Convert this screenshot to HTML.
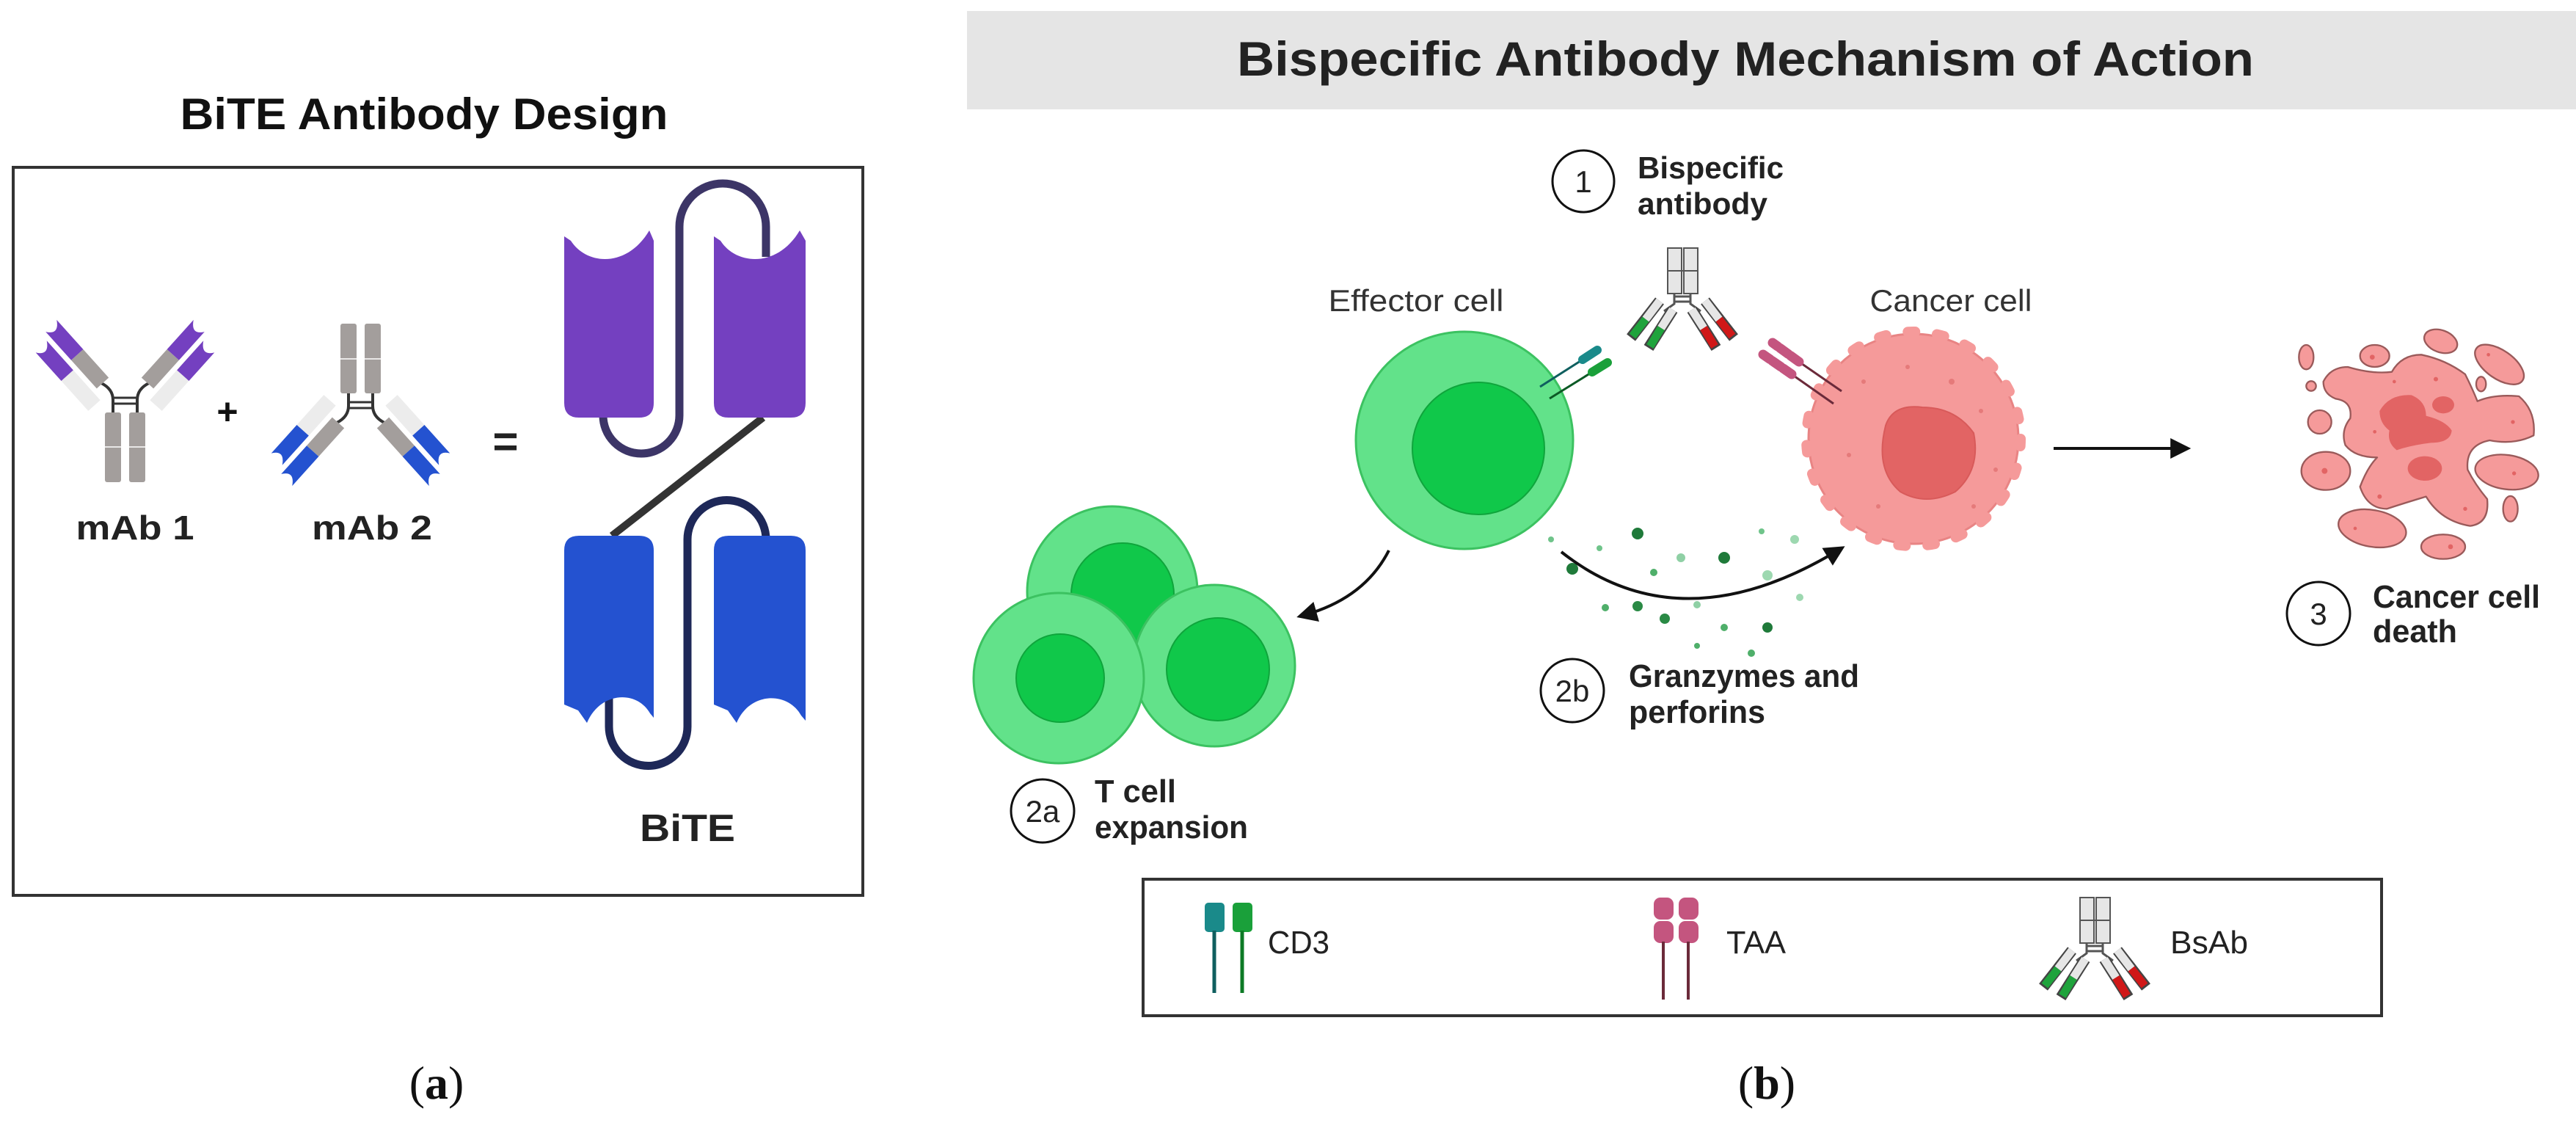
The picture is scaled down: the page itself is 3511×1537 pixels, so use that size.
<!DOCTYPE html>
<html><head><meta charset="utf-8"><style>html,body{margin:0;padding:0;background:#fff}svg{display:block}</style></head><body>
<svg width="3511" height="1537" viewBox="0 0 3511 1537" xmlns="http://www.w3.org/2000/svg" font-family="Liberation Sans, Arial, sans-serif">
<defs>
<marker id="ah2" viewBox="0 0 10 10" refX="6" refY="5" markerWidth="28" markerHeight="28" orient="auto" markerUnits="userSpaceOnUse"><path d="M0,0 L10,5 L0,10 Z" fill="#111"/></marker>
<g id="arm">
  <rect x="-11" y="-52" width="22" height="52" fill="#a39e9c"/>
  <path d="M-11,-52 L-11,-104 Q0,-88 11,-106 L11,-52 Z" fill="#7440c0"/>
  <rect x="-40" y="-40" width="22" height="55" fill="#ececec"/>
  <path d="M-40,-40 L-40,-92 Q-29,-76 -18,-94 L-18,-40 Z" fill="#7440c0"/>
</g>
<g id="armb">
  <rect x="-11" y="-52" width="22" height="52" fill="#a39e9c"/>
  <path d="M-11,-52 L-11,-104 Q0,-88 11,-106 L11,-52 Z" fill="#2452d0"/>
  <rect x="-40" y="-40" width="22" height="55" fill="#ececec"/>
  <path d="M-40,-40 L-40,-92 Q-29,-76 -18,-94 L-18,-40 Z" fill="#2452d0"/>
</g>
<g id="bsab">
  <rect x="2273" y="338" width="19" height="62" fill="#e6e6e6" stroke="#555" stroke-width="2"/>
  <rect x="2295" y="338" width="19" height="62" fill="#e6e6e6" stroke="#555" stroke-width="2"/>
  <line x1="2273" y1="369" x2="2314" y2="369" stroke="#555" stroke-width="2"/>
  <path d="M2282,400 L2282,414 L2268,424 M2304,400 L2304,414 L2318,424 M2282,404 L2304,404 M2282,411 L2304,411" stroke="#555" stroke-width="3" fill="none"/>
  <line x1="2262" y1="410" x2="2223" y2="460" stroke="#444" stroke-width="15"/>
  <line x1="2262" y1="410" x2="2243" y2="435" stroke="#e6e6e6" stroke-width="11"/>
  <line x1="2243" y1="435" x2="2225" y2="458" stroke="#1fa33c" stroke-width="11"/>
  <line x1="2280" y1="422" x2="2247" y2="474" stroke="#444" stroke-width="15"/>
  <line x1="2280" y1="422" x2="2264" y2="447" stroke="#e6e6e6" stroke-width="11"/>
  <line x1="2264" y1="447" x2="2249" y2="472" stroke="#1fa33c" stroke-width="11"/>
  <line x1="2324" y1="410" x2="2363" y2="460" stroke="#444" stroke-width="15"/>
  <line x1="2324" y1="410" x2="2343" y2="435" stroke="#e6e6e6" stroke-width="11"/>
  <line x1="2343" y1="435" x2="2361" y2="458" stroke="#d01818" stroke-width="11"/>
  <line x1="2306" y1="422" x2="2339" y2="474" stroke="#444" stroke-width="15"/>
  <line x1="2306" y1="422" x2="2322" y2="447" stroke="#e6e6e6" stroke-width="11"/>
  <line x1="2322" y1="447" x2="2337" y2="472" stroke="#d01818" stroke-width="11"/>
</g>
</defs>
<rect width="3511" height="1537" fill="#fff"/>

<!-- Panel a -->
<text x="578" y="176" font-size="60" font-weight="bold" text-anchor="middle" textLength="665" lengthAdjust="spacingAndGlyphs" fill="#111">BiTE Antibody Design</text>
<rect x="18" y="228" width="1158" height="992" fill="none" stroke="#333" stroke-width="4"/>

<g>
  <rect x="143" y="562" width="22" height="95" rx="3" fill="#a39e9c"/>
  <rect x="176" y="562" width="22" height="95" rx="3" fill="#a39e9c"/>
  <line x1="143" y1="609" x2="198" y2="609" stroke="#fff" stroke-width="1.5"/>
  <path d="M154,562 L154,545 Q154,530 138,522 M187,562 L187,545 Q187,530 203,522" stroke="#333" stroke-width="4" fill="none"/>
  <path d="M154,542 L187,542 M154,550 L187,550" stroke="#333" stroke-width="3"/>
  <g transform="translate(140,522) rotate(-42)"><use href="#arm"/></g>
  <g transform="translate(201,522) rotate(42) scale(-1,1)"><use href="#arm"/></g>
</g>
<g transform="translate(321,1098) scale(1,-1)">
  <rect x="143" y="562" width="22" height="95" rx="3" fill="#a39e9c"/>
  <rect x="176" y="562" width="22" height="95" rx="3" fill="#a39e9c"/>
  <line x1="143" y1="609" x2="198" y2="609" stroke="#fff" stroke-width="1.5"/>
  <path d="M154,562 L154,545 Q154,530 138,522 M187,562 L187,545 Q187,530 203,522" stroke="#333" stroke-width="4" fill="none"/>
  <path d="M154,542 L187,542 M154,550 L187,550" stroke="#333" stroke-width="3"/>
  <g transform="translate(140,522) rotate(-42)"><use href="#armb"/></g>
  <g transform="translate(201,522) rotate(42) scale(-1,1)"><use href="#armb"/></g>
</g>
<text x="184" y="735" font-size="46" font-weight="bold" text-anchor="middle" textLength="161" lengthAdjust="spacingAndGlyphs" fill="#222">mAb 1</text>
<text x="507" y="735" font-size="46" font-weight="bold" text-anchor="middle" textLength="164" lengthAdjust="spacingAndGlyphs" fill="#222">mAb 2</text>
<text x="310" y="578" font-size="50" font-weight="bold" text-anchor="middle" fill="#111">+</text>
<text x="689" y="622" font-size="60" font-weight="bold" text-anchor="middle" fill="#222">=</text>

<path d="M1040,569 L834,730" stroke="#333" stroke-width="10"/>
<path d="M822,555 L822,566 A52,52 0 0 0 926,566 L926,309 A59,59 0 0 1 1044,309 L1044,350" stroke="#3c3567" stroke-width="11" fill="none"/>
<path d="M1044,740 L1044,735 A53.5,53.5 0 0 0 937,735 L937,990 A53.5,53.5 0 0 1 830,990 L830,945" stroke="#1e2858" stroke-width="11" fill="none"/>
<path d="M769,549 L769,322 L778,328 C800,362 855,365 885,314 L891,328 L891,549 Q891,569 871,569 L789,569 Q769,569 769,549 Z" fill="#7440c0"/>
<path d="M973,549 L973,322 L982,328 C1004,362 1060,365 1090,314 L1098,328 L1098,549 Q1098,569 1078,569 L993,569 Q973,569 973,549 Z" fill="#7440c0"/>
<path d="M769,750 Q769,730 789,730 L871,730 Q891,730 891,750 L891,978 L886,972 C868,940 818,942 800,985 L788,968 L769,960 Z" fill="#2452d0"/>
<path d="M973,750 Q973,730 993,730 L1078,730 Q1098,730 1098,750 L1098,982 L1092,975 C1074,942 1022,942 1004,985 L992,968 L973,960 Z" fill="#2452d0"/>
<text x="937" y="1146" font-size="52" font-weight="bold" text-anchor="middle" textLength="130" lengthAdjust="spacingAndGlyphs" fill="#222">BiTE</text>
<text x="595" y="1497" font-size="64" font-family="Liberation Serif, serif" text-anchor="middle" fill="#111">(<tspan font-weight="bold">a</tspan>)</text>

<!-- Panel b -->
<rect x="1318" y="15" width="2193" height="134" fill="#e5e5e5"/>
<text x="2379" y="103" font-size="66" font-weight="bold" text-anchor="middle" textLength="1386" lengthAdjust="spacingAndGlyphs" fill="#222">Bispecific Antibody Mechanism of Action</text>

<g font-size="42" fill="#222">
<circle cx="2158" cy="247" r="42" fill="#fff" stroke="#111" stroke-width="3"/>
<text x="2158" y="262" text-anchor="middle">1</text>
<text x="2232" y="243" font-weight="bold" textLength="199" lengthAdjust="spacingAndGlyphs">Bispecific</text>
<text x="2232" y="292" font-weight="bold" textLength="177" lengthAdjust="spacingAndGlyphs">antibody</text>
<text x="1930" y="424" text-anchor="middle" textLength="239" lengthAdjust="spacingAndGlyphs" fill="#333">Effector cell</text>
<text x="2659" y="424" text-anchor="middle" textLength="221" lengthAdjust="spacingAndGlyphs" fill="#333">Cancer cell</text>
</g>

<use href="#bsab"/>

<circle cx="1996" cy="600" r="148" fill="#62e28a" stroke="#3cc261" stroke-width="3"/>
<circle cx="2015" cy="611" r="90" fill="#10c84a" stroke="#0fa53c" stroke-width="2"/>
<line x1="2099" y1="527" x2="2157" y2="490" stroke="#0f5f5f" stroke-width="3"/>
<line x1="2157" y1="490" x2="2177" y2="477" stroke="#1a8a8a" stroke-width="12" stroke-linecap="round"/>
<line x1="2112" y1="543" x2="2170" y2="507" stroke="#0c5a25" stroke-width="3"/>
<line x1="2170" y1="507" x2="2191" y2="494" stroke="#1aa03a" stroke-width="12" stroke-linecap="round"/>

<!-- Cancer cell -->
<circle cx="2608" cy="598" r="143" fill="#f59a9a" stroke="#e88484" stroke-width="3"/>
<circle cx="2608" cy="598" r="146" fill="none" stroke="#f59a9a" stroke-width="14" stroke-linecap="round" stroke-dasharray="10 30"/>
<path d="M2570,580 Q2580,550 2620,555 Q2665,555 2690,590 Q2700,640 2665,670 Q2625,690 2590,670 Q2555,640 2570,580 Z" fill="#e26464" stroke="#d85a5a" stroke-width="2"/>
<g fill="#e57a7a"><circle cx="2540" cy="520" r="3"/><circle cx="2600" cy="500" r="3"/><circle cx="2660" cy="520" r="4"/><circle cx="2520" cy="620" r="3"/><circle cx="2700" cy="560" r="3"/><circle cx="2560" cy="690" r="3"/><circle cx="2690" cy="690" r="3"/><circle cx="2720" cy="640" r="3"/></g>
<line x1="2510" y1="533" x2="2452" y2="493" stroke="#6b2a3a" stroke-width="3"/>
<line x1="2452" y1="493" x2="2416" y2="467" stroke="#c4557f" stroke-width="13" stroke-linecap="round" stroke-dasharray="14 4"/>
<line x1="2499" y1="550" x2="2442" y2="510" stroke="#6b2a3a" stroke-width="3"/>
<line x1="2442" y1="510" x2="2403" y2="483" stroke="#c4557f" stroke-width="13" stroke-linecap="round" stroke-dasharray="14 4"/>

<line x1="2799" y1="611" x2="2975" y2="611" stroke="#111" stroke-width="4" marker-end="url(#ah2)"/>

<g transform="translate(3100,420) scale(0.3333)" fill="#f59a9a" stroke="#9a5a5a" stroke-width="7" stroke-linejoin="round">
<path d="M200,300 Q230,240 300,240 Q400,270 480,260 Q520,190 600,190 Q700,210 780,270 Q810,330 830,380 Q900,350 1000,360 Q1070,420 1060,520 Q980,560 880,540 Q780,560 790,660 Q820,720 870,780 Q880,880 800,890 Q680,870 620,770 Q520,800 460,820 Q380,820 350,730 Q380,650 420,610 Q330,610 290,560 Q270,500 310,450 Q320,380 250,370 Q200,350 200,300 Z"/>
<ellipse cx="130" cy="200" rx="30" ry="50"/>
<ellipse cx="410" cy="195" rx="60" ry="45"/>
<ellipse cx="680" cy="135" rx="70" ry="45" transform="rotate(20 680 135)"/>
<ellipse cx="920" cy="230" rx="115" ry="58" transform="rotate(35 920 230)"/>
<circle cx="150" cy="318" r="20"/>
<ellipse cx="845" cy="310" rx="20" ry="30"/>
<circle cx="185" cy="465" r="48"/>
<ellipse cx="210" cy="665" rx="100" ry="78"/>
<ellipse cx="950" cy="670" rx="130" ry="70" transform="rotate(8 950 670)"/>
<ellipse cx="965" cy="820" rx="30" ry="52"/>
<ellipse cx="400" cy="900" rx="140" ry="75" transform="rotate(10 400 900)"/>
<ellipse cx="690" cy="975" rx="90" ry="50"/>
<g fill="#e26464" stroke="none">
<path d="M430,420 Q470,350 560,355 Q620,380 620,440 Q700,460 725,500 Q720,550 640,550 Q560,560 500,580 Q460,550 470,500 Q430,470 430,420 Z"/>
<ellipse cx="615" cy="655" rx="70" ry="50"/>
<ellipse cx="690" cy="395" rx="45" ry="35"/>
<circle cx="400" cy="200" r="10"/><circle cx="660" cy="290" r="9"/><circle cx="490" cy="300" r="7"/><circle cx="205" cy="665" r="12"/><circle cx="975" cy="465" r="8"/><circle cx="980" cy="675" r="8"/><circle cx="430" cy="770" r="9"/><circle cx="780" cy="820" r="8"/><circle cx="720" cy="975" r="10"/><circle cx="330" cy="900" r="7"/><circle cx="410" cy="505" r="7"/><circle cx="875" cy="190" r="7"/></g>
</g>
<circle cx="3160" cy="836" r="43" fill="#fff" stroke="#111" stroke-width="3"/>
<text x="3160" y="851" font-size="42" text-anchor="middle" fill="#222">3</text>
<text x="3234" y="828" font-size="44" font-weight="bold" textLength="228" lengthAdjust="spacingAndGlyphs" fill="#222">Cancer cell</text>
<text x="3234" y="875" font-size="44" font-weight="bold" textLength="115" lengthAdjust="spacingAndGlyphs" fill="#222">death</text>

<g>
<circle cx="2114" cy="735" r="4" fill="#6fc48a"/><circle cx="2232" cy="727" r="8" fill="#1f7a3a"/><circle cx="2180" cy="747" r="4" fill="#6fc48a"/><circle cx="2291" cy="760" r="6" fill="#8fd0a5"/><circle cx="2350" cy="760" r="8" fill="#1f7a3a"/><circle cx="2401" cy="724" r="4" fill="#6fc48a"/><circle cx="2446" cy="735" r="6" fill="#9dd8b0"/><circle cx="2143" cy="775" r="8" fill="#1f7a3a"/><circle cx="2254" cy="780" r="5" fill="#4faf6a"/><circle cx="2409" cy="784" r="7" fill="#9dd8b0"/><circle cx="2453" cy="814" r="5" fill="#9dd8b0"/><circle cx="2188" cy="828" r="5" fill="#4faf6a"/><circle cx="2232" cy="826" r="7" fill="#2a8a45"/><circle cx="2313" cy="824" r="5" fill="#8fd0a5"/><circle cx="2269" cy="843" r="7" fill="#2a8a45"/><circle cx="2350" cy="855" r="5" fill="#4faf6a"/><circle cx="2409" cy="855" r="7" fill="#1f7a3a"/><circle cx="2313" cy="880" r="4" fill="#4faf6a"/><circle cx="2387" cy="890" r="5" fill="#4faf6a"/>
</g>
<path d="M2128,752 Q2290,880 2505,750" stroke="#111" stroke-width="4" fill="none" marker-end="url(#ah2)"/>
<circle cx="2143" cy="941" r="43" fill="#fff" stroke="#111" stroke-width="3"/>
<text x="2143" y="956" font-size="42" text-anchor="middle" fill="#222">2b</text>
<text x="2220" y="936" font-size="44" font-weight="bold" textLength="314" lengthAdjust="spacingAndGlyphs" fill="#222">Granzymes and</text>
<text x="2220" y="985" font-size="44" font-weight="bold" textLength="186" lengthAdjust="spacingAndGlyphs" fill="#222">perforins</text>

<path d="M1893,750 Q1860,815 1778,838" stroke="#111" stroke-width="4" fill="none" marker-end="url(#ah2)"/>
<circle cx="1516" cy="806" r="116" fill="#62e28a" stroke="#3cc261" stroke-width="3"/>
<circle cx="1530" cy="810" r="70" fill="#10c84a" stroke="#0fa53c" stroke-width="2"/>
<circle cx="1655" cy="907" r="110" fill="#62e28a" stroke="#3cc261" stroke-width="3"/>
<circle cx="1660" cy="912" r="70" fill="#10c84a" stroke="#0fa53c" stroke-width="2"/>
<circle cx="1443" cy="924" r="116" fill="#62e28a" stroke="#3cc261" stroke-width="3"/>
<circle cx="1445" cy="924" r="60" fill="#10c84a" stroke="#0fa53c" stroke-width="2"/>
<circle cx="1421" cy="1105" r="43" fill="#fff" stroke="#111" stroke-width="3"/>
<text x="1421" y="1120" font-size="42" text-anchor="middle" fill="#222">2a</text>
<text x="1492" y="1093" font-size="44" font-weight="bold" textLength="111" lengthAdjust="spacingAndGlyphs" fill="#222">T cell</text>
<text x="1492" y="1142" font-size="44" font-weight="bold" textLength="209" lengthAdjust="spacingAndGlyphs" fill="#222">expansion</text>

<rect x="1558" y="1198" width="1688" height="186" fill="#fff" stroke="#333" stroke-width="4"/>
<rect x="1642" y="1230" width="27" height="40" rx="5" fill="#1a8a8a"/>
<rect x="1680" y="1230" width="27" height="40" rx="5" fill="#1aa03a"/>
<line x1="1655" y1="1268" x2="1655" y2="1353" stroke="#0f5f5f" stroke-width="5"/>
<line x1="1693" y1="1268" x2="1693" y2="1353" stroke="#0c7a25" stroke-width="5"/>
<text x="1728" y="1299" font-size="44" textLength="84" lengthAdjust="spacingAndGlyphs" fill="#222">CD3</text>
<rect x="2254" y="1223" width="27" height="30" rx="9" fill="#c4557f"/>
<rect x="2254" y="1255" width="27" height="30" rx="9" fill="#c4557f"/>
<rect x="2288" y="1223" width="27" height="30" rx="9" fill="#c4557f"/>
<rect x="2288" y="1255" width="27" height="30" rx="9" fill="#c4557f"/>
<line x1="2267" y1="1283" x2="2267" y2="1362" stroke="#6b2a3a" stroke-width="4"/>
<line x1="2301" y1="1283" x2="2301" y2="1362" stroke="#6b2a3a" stroke-width="4"/>
<text x="2353" y="1299" font-size="44" textLength="81" lengthAdjust="spacingAndGlyphs" fill="#222">TAA</text>
<g transform="translate(562,885)"><use href="#bsab"/></g>
<text x="2958" y="1299" font-size="44" textLength="106" lengthAdjust="spacingAndGlyphs" fill="#222">BsAb</text>

<text x="2408" y="1497" font-size="64" font-family="Liberation Serif, serif" text-anchor="middle" fill="#111">(<tspan font-weight="bold">b</tspan>)</text>
</svg>
</body></html>
